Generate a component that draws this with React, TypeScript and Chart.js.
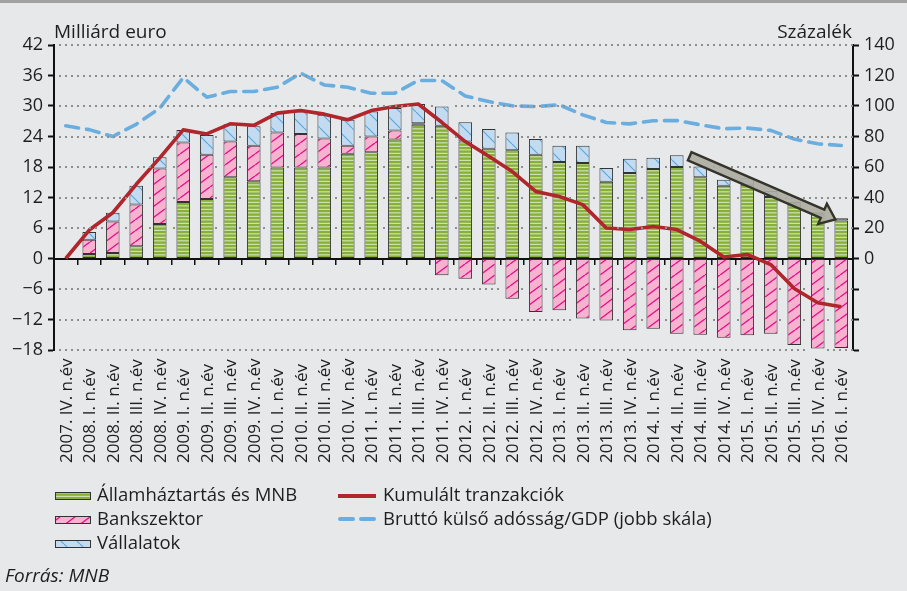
import React, { useEffect, useRef } from 'react';
import { Chart, registerables } from 'chart.js';

Chart.register(...registerables);

const categories = [
  '2007. IV. n.év',
  '2008. I. n.év', '2008. II. n.év', '2008. III. n.év', '2008. IV. n.év',
  '2009. I. n.év', '2009. II. n.év', '2009. III. n.év', '2009. IV. n.év',
  '2010. I. n.év', '2010. II. n.év', '2010. III. n.év', '2010. IV. n.év',
  '2011. I. n.év', '2011. II. n.év', '2011. III. n.év', '2011. IV. n.év',
  '2012. I. n.év', '2012. II. n.év', '2012. III. n.év', '2012. IV. n.év',
  '2013. I. n.év', '2013. II. n.év', '2013. III. n.év', '2013. IV. n.év',
  '2014. I. n.év', '2014. II. n.év', '2014. III. n.év', '2014. IV. n.év',
  '2015. I. n.év', '2015. II. n.év', '2015. III. n.év', '2015. IV. n.év',
  '2016. I. n.év',
];

// Milliárd euro (bal skála)
const govMnb = [
  0, 0.9, 1.1, 2.4, 6.8, 11.1, 11.7, 16.0, 15.2, 17.9, 17.9, 17.9, 20.6,
  20.9, 23.4, 26.3, 26.1, 23.0, 21.6, 21.3, 20.4, 19.0, 18.8, 15.1, 16.8,
  17.6, 18.0, 16.0, 14.3, 14.5, 12.1, 10.6, 8.8, 7.5,
];
const banks = [
  0, 2.8, 6.2, 8.2, 10.9, 11.7, 8.7, 7.0, 7.0, 6.9, 6.6, 5.7, 1.6,
  3.1, 1.8, 0.3, -3.3, -4.0, -5.1, -7.9, -10.5, -10.2, -11.8, -12.2, -14.1,
  -13.8, -14.8, -15.0, -15.6, -15.1, -14.8, -17.0, -17.7, -17.6,
];
const corporates = [
  0, 1.5, 1.7, 3.7, 2.2, 2.5, 3.9, 3.4, 3.8, 3.8, 4.4, 4.7, 5.1,
  4.9, 4.4, 3.8, 3.8, 3.8, 3.9, 3.5, 3.1, 3.2, 3.4, 2.7, 2.8,
  2.2, 2.3, 2.1, 1.2, 1.3, 1.2, 0.5, 0.3, 0.4,
];
const cumulative = [
  0, 5.6, 9.0, 14.6, 19.8, 25.3, 24.5, 26.5, 26.2, 28.6, 29.1, 28.4, 27.3,
  29.1, 29.9, 30.4, 26.8, 23.0, 20.1, 17.1, 13.2, 12.2, 10.6, 6.0, 5.7,
  6.3, 5.7, 3.4, 0.3, 0.8, -1.2, -5.9, -8.7, -9.5,
];
// Százalék (jobb skála)
const debtGdp = [
  87, 84.5, 80, 88, 98.6, 118.6, 105.8, 109.5, 109.5, 112.3, 121.5, 113.8, 112.3,
  108.4, 108.4, 116.7, 116.7, 106.6, 102.9, 100.1, 99.6, 100.8, 94.2, 89.2, 88.3,
  90.3, 90.5, 87.7, 85.1, 85.5, 84.0, 78.3, 75.2, 74.1,
];

const leftAxis = { min: -18, max: 42, step: 6 };
const rightAxis = { min: -60, max: 140, step: 20 };

// arrow annotation in data units: [category index, left-axis value]
const arrowFrom = [26.55, 20.1];
const arrowTo = [32.75, 7.7];

const seriesNames = {
  gov: 'Államháztartás és MNB',
  bank: 'Bankszektor',
  corp: 'Vállalatok',
  cum: 'Kumulált tranzakciók',
  debt: 'Bruttó külső adósság/GDP (jobb skála)',
};

const BG = '#e7e8ea';
const FONT = "'Open Sans', 'DejaVu Sans', sans-serif";
const TEXT = '#1e1e1e';
const RED = '#b0262c';
const BLUE_LINE = '#6aaedf';

function greenPattern(ctx: CanvasRenderingContext2D) {
  const c = document.createElement('canvas');
  c.width = 8; c.height = 7;
  const g = c.getContext('2d')!;
  g.fillStyle = '#86b03a';
  g.fillRect(0, 0, 8, 7);
  g.fillStyle = '#d7e6bb';
  g.fillRect(0, 2.3, 8, 1.1);
  g.fillRect(0, 5.8, 8, 1.1);
  return ctx.createPattern(c, 'repeat')!;
}

function diagPattern(ctx: CanvasRenderingContext2D, w: number, h: number, bg: string, fg: string, lw: number, rising: boolean) {
  const c = document.createElement('canvas');
  c.width = w; c.height = h;
  const g = c.getContext('2d')!;
  g.fillStyle = bg;
  g.fillRect(0, 0, w, h);
  g.strokeStyle = fg;
  g.lineWidth = lw;
  g.beginPath();
  if (rising) {
    for (const k of [-1, 0, 1]) {
      g.moveTo(k * w, h);
      g.lineTo((k + 1) * w, 0);
    }
  } else {
    for (const k of [-1, 0, 1]) {
      g.moveTo(k * w, 0);
      g.lineTo((k + 1) * w, h);
    }
  }
  g.stroke();
  return ctx.createPattern(c, 'repeat')!;
}

function drawArrow(ctx: CanvasRenderingContext2D, x1: number, y1: number, x2: number, y2: number) {
  const ang = Math.atan2(y2 - y1, x2 - x1);
  const len = Math.hypot(x2 - x1, y2 - y1);
  const sw = 4.5, hw = 11, hl = 14;
  ctx.save();
  ctx.translate(x1, y1);
  ctx.rotate(ang);
  ctx.beginPath();
  ctx.moveTo(0, -sw);
  ctx.lineTo(len - hl, -sw);
  ctx.lineTo(len - hl, -hw);
  ctx.lineTo(len, 0);
  ctx.lineTo(len - hl, hw);
  ctx.lineTo(len - hl, sw);
  ctx.lineTo(0, sw);
  ctx.closePath();
  ctx.fillStyle = 'rgba(172,172,162,0.9)';
  ctx.fill();
  ctx.lineJoin = 'miter';
  ctx.lineWidth = 2.4;
  ctx.strokeStyle = '#34342a';
  ctx.stroke();
  ctx.restore();
}

// dotted grid drawn in the gaps between bars (so it stays visually behind them)
function drawDottedGrid(chart: any) {
  const { ctx, chartArea } = chart;
  const ys = chart.scales.y;
  const rects: { l: number; r: number; t: number; b: number }[] = [];
  chart.data.datasets.forEach((ds: any, di: number) => {
    if (ds.type !== 'bar') return;
    const meta = chart.getDatasetMeta(di);
    meta.data.forEach((el: any) => {
      const half = el.width / 2 + 1;
      rects.push({
        l: el.x - half, r: el.x + half,
        t: Math.min(el.y, el.base) - 1, b: Math.max(el.y, el.base) + 1,
      });
    });
  });
  ctx.save();
  ctx.fillStyle = '#8e8e8e';
  for (let v = leftAxis.min; v <= leftAxis.max + 1e-9; v += leftAxis.step) {
    if (Math.abs(v) < 1e-9) continue;
    const y = Math.round(ys.getPixelForValue(v));
    for (let x = Math.round(chartArea.left) + 5; x < chartArea.right - 1; x += 6) {
      const hidden = rects.some((q) => x + 2 > q.l && x < q.r && y + 1 > q.t && y - 1 < q.b);
      if (!hidden) ctx.fillRect(x, y - 1, 2, 2);
    }
  }
  ctx.restore();
}

export default function App() {
  const ref = useRef<HTMLCanvasElement>(null);

  useEffect(() => {
    const canvas = ref.current!;
    const ctx0 = canvas.getContext('2d')!;
    const pGreen = greenPattern(ctx0);
    const pPink = diagPattern(ctx0, 15, 11, '#f7b2cf', '#e2128a', 1.4, true);
    const pBlue = diagPattern(ctx0, 16, 16, '#c3dbf1', '#5fa7da', 1.2, false);

    const decor = {
      id: 'decor',
      beforeDraw(chart: any) {
        const { ctx, width, height } = chart;
        ctx.save();
        ctx.fillStyle = BG;
        ctx.fillRect(0, 0, width, height);
        ctx.fillStyle = '#a2a2a2';
        ctx.fillRect(0, 0, width, 3);
        ctx.restore();
      },
      afterDatasetsDraw(chart: any) {
        drawDottedGrid(chart);
        const { ctx } = chart;
        const xs = chart.scales.x;
        const ys = chart.scales.y;
        drawArrow(
          ctx,
          xs.getPixelForValue(arrowFrom[0]), ys.getPixelForValue(arrowFrom[1]),
          xs.getPixelForValue(arrowTo[0]), ys.getPixelForValue(arrowTo[1]),
        );
      },
      afterDraw(chart: any) {
        const { ctx, chartArea } = chart;
        const xs = chart.scales.x;
        ctx.save();
        ctx.fillStyle = TEXT;
        // axis titles
        ctx.font = `19px ${FONT}`;
        ctx.textBaseline = 'alphabetic';
        ctx.textAlign = 'left';
        ctx.fillText('Milliárd euro', chartArea.left, 38);
        ctx.textAlign = 'right';
        ctx.fillText('Százalék', chartArea.right - 1, 38);

        // category labels, vertical, bottom aligned
        ctx.font = `17px ${FONT}`;
        ctx.textAlign = 'left';
        ctx.textBaseline = 'middle';
        const labelBase = chartArea.bottom + 113;
        categories.forEach((lab, i) => {
          const x = xs.getPixelForValue(i);
          ctx.save();
          ctx.translate(x + 1, labelBase);
          ctx.rotate(-Math.PI / 2);
          ctx.fillText(lab, 0, 0);
          ctx.restore();
        });

        // legend
        const rows = [501, 525, 549];
        const sx = 55, sw = 36;
        const barItems = [
          { name: seriesNames.gov, fill: pGreen },
          { name: seriesNames.bank, fill: pPink },
          { name: seriesNames.corp, fill: pBlue },
        ];
        ctx.font = `18.5px ${FONT}`;
        ctx.textBaseline = 'alphabetic';
        ctx.textAlign = 'left';
        barItems.forEach((it, i) => {
          const by = rows[i] - 9;
          ctx.fillStyle = it.fill;
          ctx.fillRect(sx, by, sw, 8);
          ctx.strokeStyle = '#333';
          ctx.lineWidth = 1;
          ctx.strokeRect(sx + 0.5, by + 0.5, sw - 1, 7);
          ctx.fillStyle = TEXT;
          ctx.fillText(it.name, 97, rows[i]);
        });
        const lx = 338, lw = 38;
        ctx.lineCap = 'butt';
        ctx.strokeStyle = RED;
        ctx.lineWidth = 4;
        ctx.beginPath();
        ctx.moveTo(lx, rows[0] - 5);
        ctx.lineTo(lx + lw, rows[0] - 5);
        ctx.stroke();
        ctx.strokeStyle = BLUE_LINE;
        ctx.lineCap = 'round';
        ctx.beginPath();
        ctx.moveTo(lx + 2, rows[1] - 6);
        ctx.lineTo(lx + 15, rows[1] - 6);
        ctx.moveTo(lx + 23, rows[1] - 6);
        ctx.lineTo(lx + lw - 2, rows[1] - 6);
        ctx.stroke();
        ctx.fillStyle = TEXT;
        ctx.fillText(seriesNames.cum, 383, rows[0]);
        ctx.fillText(seriesNames.debt, 383, rows[1]);

        // source
        ctx.font = `italic 19px ${FONT}`;
        ctx.fillText('Forrás: MNB', 5, 582);
        ctx.restore();
      },
    };

    const fmt = (v: number) => (v < 0 ? '\u2212' + Math.abs(v) : String(v));

    const chart = new Chart(canvas, {
      type: 'bar',
      data: {
        labels: categories,
        datasets: [
          {
            type: 'line', label: seriesNames.cum, data: cumulative, yAxisID: 'y', stack: 'cum',
            borderColor: RED, borderWidth: 3.6, pointRadius: 0, tension: 0, order: 0,
            borderJoinStyle: 'round', fill: false,
          } as any,
          {
            type: 'line', label: seriesNames.debt, data: debtGdp, yAxisID: 'y2',
            borderColor: BLUE_LINE, borderWidth: 3.6, borderDash: [13, 8], borderCapStyle: 'round',
            borderJoinStyle: 'round', pointRadius: 0, tension: 0, order: 0, fill: false,
          } as any,
          {
            type: 'bar', label: seriesNames.gov, data: govMnb, yAxisID: 'y', stack: 'a',
            backgroundColor: pGreen, borderColor: '#333', borderWidth: 1, borderSkipped: false,
            barPercentage: 0.58, categoryPercentage: 1, order: 1,
          } as any,
          {
            type: 'bar', label: seriesNames.bank, data: banks, yAxisID: 'y', stack: 'a',
            backgroundColor: pPink, borderColor: '#333', borderWidth: 1, borderSkipped: false,
            barPercentage: 0.58, categoryPercentage: 1, order: 1,
          } as any,
          {
            type: 'bar', label: seriesNames.corp, data: corporates, yAxisID: 'y', stack: 'a',
            backgroundColor: pBlue, borderColor: '#333', borderWidth: 1, borderSkipped: false,
            barPercentage: 0.58, categoryPercentage: 1, order: 1,
          } as any,
        ],
      },
      options: {
        animation: false,
        responsive: false,
        devicePixelRatio: 1,
        layout: { padding: { top: 45, bottom: 241, left: 0, right: 0 } },
        plugins: { legend: { display: false }, tooltip: { enabled: false } },
        scales: {
          x: {
            type: 'category',
            position: { y: 0 } as any,
            stacked: true,
            offset: true,
            ticks: { display: false },
            grid: {
              display: true, drawOnChartArea: false, drawTicks: true, offset: true,
              tickLength: 5, color: '#111', lineWidth: 1.5,
            },
            border: { display: true, color: '#111', width: 2 },
          },
          y: {
            position: 'left',
            stacked: true,
            min: leftAxis.min, max: leftAxis.max,
            ticks: {
              stepSize: leftAxis.step, color: TEXT, padding: 5,
              font: { family: FONT, size: 18 },
              callback: (v: any) => fmt(Number(v)),
            },
            grid: {
              drawOnChartArea: false,
              color: '#111',
              tickColor: '#111', tickLength: 6, tickWidth: 2,
            },
            border: { display: true, color: '#111', width: 2 },
            afterFit: (s: any) => { s.width = 54; },
          },
          y2: {
            position: 'right',
            min: rightAxis.min, max: rightAxis.max,
            ticks: {
              stepSize: rightAxis.step, color: TEXT, padding: 5,
              font: { family: FONT, size: 18 },
              callback: (v: any) => (Number(v) < 0 ? '' : String(v)),
            },
            grid: {
              drawOnChartArea: false, tickColor: '#111', tickLength: 6, tickWidth: 2,
            },
            border: { display: true, color: '#111', width: 2 },
            afterFit: (s: any) => { s.width = 54; },
          },
        },
      },
      plugins: [decor],
    } as any);

    return () => chart.destroy();
  }, []);

  return (
    <div style={{ position: 'absolute', left: 0, top: 0, width: 907, height: 591, background: BG }}>
      <canvas ref={ref} width={907} height={591} style={{ width: 907, height: 591, display: 'block' }} />
    </div>
  );
}
